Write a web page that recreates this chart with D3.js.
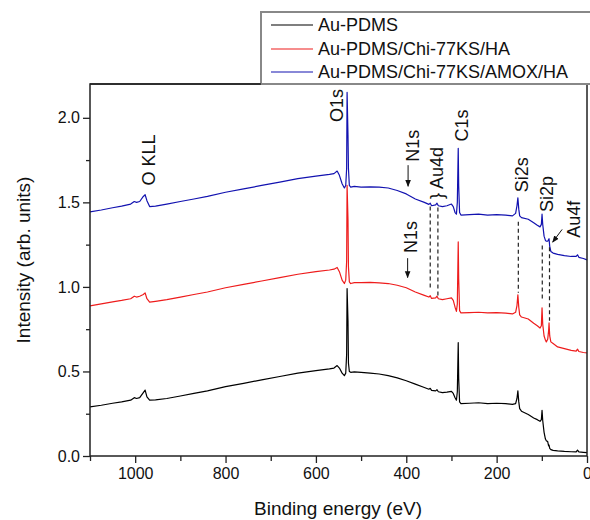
<!DOCTYPE html>
<html><head><meta charset="utf-8">
<script src="https://cdn.jsdelivr.net/npm/d3@7"></script>
<style>body{margin:0;background:#fff}svg{display:block}text{font-family:"Liberation Sans",Arial,sans-serif;fill:#111}</style>
</head><body><svg id="c" width="590" height="520"></svg>
<script>
const seriesNames = ["Au-PDMS", "Au-PDMS/Chi-77KS/HA", "Au-PDMS/Chi-77KS/AMOX/HA"];
const seriesColors = ["#000000", "#ee1c1c", "#1212b0"];
const xTickValues = [1000, 800, 600, 400, 200, 0];
const yTickValues = [0.0, 0.5, 1.0, 1.5, 2.0];
const energyGrid = [1100,1075,1050,1030,1010,1002,997,990,982,978,974,968,955,930,900,870,840,800,760,720,680,640,600,570,560,553,548,542,537,534,532,531,529,528,526,523,515,500,480,460,440,420,400,380,360,350,347,344,335,332,329,320,310,300,296,292,289,287,285,284,282,279,260,240,220,200,180,165,158,155,153,151,149,145,130,118,110,104,101,99.5,98,95,92,90,87,85,84,82.5,80,75,65,50,35,24,21,18,8,0];
const auPdms = [0.29,0.30,0.312,0.32,0.33,0.345,0.34,0.345,0.375,0.39,0.35,0.33,0.332,0.34,0.355,0.37,0.385,0.41,0.43,0.45,0.47,0.49,0.505,0.515,0.52,0.535,0.52,0.49,0.475,0.49,0.60,0.99,0.80,0.55,0.50,0.495,0.498,0.495,0.49,0.485,0.475,0.462,0.445,0.425,0.405,0.395,0.40,0.388,0.385,0.392,0.38,0.375,0.378,0.382,0.37,0.345,0.33,0.38,0.67,0.46,0.32,0.31,0.312,0.315,0.31,0.312,0.31,0.305,0.31,0.34,0.385,0.32,0.28,0.265,0.245,0.225,0.215,0.205,0.215,0.27,0.21,0.14,0.10,0.09,0.085,0.06,0.065,0.045,0.038,0.033,0.03,0.027,0.025,0.024,0.035,0.024,0.022,0.02];
const auPdmsChiHa = [0.888,0.90,0.912,0.92,0.93,0.945,0.94,0.945,0.955,0.965,0.93,0.91,0.915,0.925,0.94,0.955,0.97,0.995,1.015,1.035,1.055,1.075,1.09,1.10,1.105,1.115,1.09,1.04,1.02,1.04,1.15,1.60,1.40,1.12,1.03,1.02,1.025,1.025,1.027,1.024,1.02,1.01,0.995,0.97,0.95,0.94,0.948,0.932,0.935,0.945,0.93,0.925,0.93,0.935,0.92,0.88,0.855,0.90,1.266,1.05,0.86,0.846,0.848,0.85,0.846,0.848,0.845,0.84,0.85,0.89,0.953,0.88,0.835,0.822,0.81,0.785,0.77,0.757,0.77,0.876,0.78,0.71,0.685,0.675,0.69,0.74,0.787,0.71,0.675,0.665,0.645,0.635,0.625,0.62,0.632,0.618,0.612,0.61];
const auPdmsChiAmoxHa = [1.444,1.455,1.468,1.478,1.49,1.505,1.50,1.505,1.535,1.545,1.51,1.475,1.478,1.49,1.505,1.52,1.535,1.56,1.58,1.60,1.62,1.64,1.655,1.665,1.67,1.685,1.66,1.61,1.585,1.60,1.70,2.15,1.90,1.70,1.60,1.59,1.595,1.59,1.592,1.59,1.585,1.57,1.55,1.52,1.50,1.488,1.495,1.48,1.485,1.495,1.48,1.475,1.48,1.49,1.475,1.44,1.43,1.50,1.82,1.60,1.44,1.425,1.428,1.43,1.425,1.428,1.425,1.42,1.435,1.48,1.527,1.46,1.42,1.41,1.40,1.38,1.365,1.355,1.37,1.43,1.37,1.30,1.275,1.27,1.27,1.28,1.285,1.24,1.21,1.20,1.192,1.185,1.18,1.18,1.19,1.175,1.168,1.16];
// dashed guide lines
const guideEnergies = [347, 330, 152, 99, 83];
const guideTops = [1.475, 1.47, 1.385, 1.245, 1.235];
const guideBottoms = [0.98, 0.94, 0.965, 0.925, 0.80];
// peak labels: text, energy, intensity (start of rotated text)
const peakLabels = ["O KLL","O1s","C1s","Si2s","Si2p","Au4f","N1s","} Au4d","N1s"];
const peakEnergies = [956, 540, 263, 130, 75, 15, 372, 318, 376];
const peakIntensities = [1.60, 1.975, 1.86, 1.56, 1.443, 1.29, 1.74, 1.52, 1.20];

const svg = d3.select("#c");
const W = 590, H = 520;
const m = {l: 90, r: 3, t: 84, b: 64};
const x = d3.scaleLinear().domain([1100, 0]).range([m.l, W - m.r]);
const y = d3.scaleLinear().domain([0, 2.2]).range([H - m.b, m.t]);

const series = [auPdms, auPdmsChiHa, auPdmsChiAmoxHa];
const line = d3.line().x(d => x(d[0])).y(d => y(d[1]));
const g = svg.append("g");
series.forEach((vals, i) => {
  g.append("path").datum(energyGrid.map((e, j) => [e, vals[j]]))
    .attr("d", line).attr("fill", "none").attr("stroke", seriesColors[i])
    .attr("stroke-width", 1.2).attr("stroke-linejoin", "round");
});

guideEnergies.forEach((e, i) => {
  svg.append("line").attr("x1", x(e)).attr("x2", x(e))
    .attr("y1", y(guideTops[i])).attr("y2", y(guideBottoms[i]))
    .attr("stroke", "#222").attr("stroke-width", 1.2).attr("stroke-dasharray", "4,3");
});

svg.append("rect").attr("x", m.l).attr("y", m.t).attr("width", W - m.r - m.l).attr("height", H - m.b - m.t)
  .attr("fill", "none").attr("stroke", "#222").attr("stroke-width", 1.5);

const xAxis = svg.append("g").attr("transform", `translate(0,${H - m.b})`)
  .call(d3.axisBottom(x).tickValues(xTickValues).tickSize(7).tickPadding(5).tickFormat(d3.format("d")));
const xMinor = svg.append("g").attr("transform", `translate(0,${H - m.b})`)
  .call(d3.axisBottom(x).tickValues([1100,900,700,500,300,100]).tickSize(5).tickFormat(""));
const yAxis = svg.append("g").attr("transform", `translate(${m.l},0)`)
  .call(d3.axisLeft(y).tickValues(yTickValues).tickSize(7).tickPadding(3).tickFormat(d3.format(".1f")));
const yMinor = svg.append("g").attr("transform", `translate(${m.l},0)`)
  .call(d3.axisLeft(y).tickValues([0.25,0.75,1.25,1.75]).tickSize(4).tickFormat(""));
[xAxis, xMinor, yAxis, yMinor].forEach(a => {
  a.select(".domain").remove();
  a.selectAll("line").attr("stroke", "#222").attr("stroke-width", 1.3);
  a.selectAll("text").attr("font-size", 16).attr("fill", "#111").style("font-family", '"Liberation Sans",Arial,sans-serif');
});

svg.append("text").attr("x", 338).attr("y", 515).attr("text-anchor", "middle").attr("font-size", 19).text("Binding energy (eV)");
svg.append("text").attr("transform", "translate(30,260) rotate(-90)").attr("text-anchor", "middle").attr("font-size", 19).text("Intensity (arb. units)");

peakLabels.forEach((t, i) => {
  svg.append("text").attr("transform", `translate(${x(peakEnergies[i])},${y(peakIntensities[i])}) rotate(-90)`)
    .attr("font-size", 18).text(t);
});

const defs = svg.append("defs");
defs.append("marker").attr("id", "ah").attr("viewBox", "0 0 10 10").attr("refX", 9).attr("refY", 5)
  .attr("markerWidth", 7).attr("markerHeight", 7).attr("orient", "auto")
  .append("path").attr("d", "M0,1 L10,5 L0,9 Z").attr("fill", "#111");
const arrowFrom = [[396, 1.72], [397, 1.17], [55, 1.34]];
const arrowTo = [[396, 1.595], [397, 1.055], [76, 1.265]];
arrowFrom.forEach((f, i) => {
  svg.append("line").attr("x1", x(f[0])).attr("y1", y(f[1])).attr("x2", x(arrowTo[i][0])).attr("y2", y(arrowTo[i][1]))
    .attr("stroke", "#111").attr("stroke-width", 1).attr("marker-end", "url(#ah)");
});

const lg = svg.append("g");
lg.append("rect").attr("x", 261).attr("y", 12).attr("width", 340).attr("height", 72)
  .attr("fill", "#fff").attr("stroke", "#888").attr("stroke-width", 2);
const legendY = [25, 49, 72];
seriesNames.forEach((n, i) => {
  lg.append("line").attr("x1", 271).attr("x2", 313).attr("y1", legendY[i]).attr("y2", legendY[i])
    .attr("stroke", seriesColors[i]).attr("stroke-width", 1.2);
  lg.append("text").attr("x", 318).attr("y", legendY[i]).attr("dy", "0.35em").attr("font-size", 18).text(n);
});
svg.append("line").attr("x1", m.l).attr("x2", 261).attr("y1", m.t).attr("y2", m.t).attr("stroke", "#222").attr("stroke-width", 1.5);
</script></body></html>
